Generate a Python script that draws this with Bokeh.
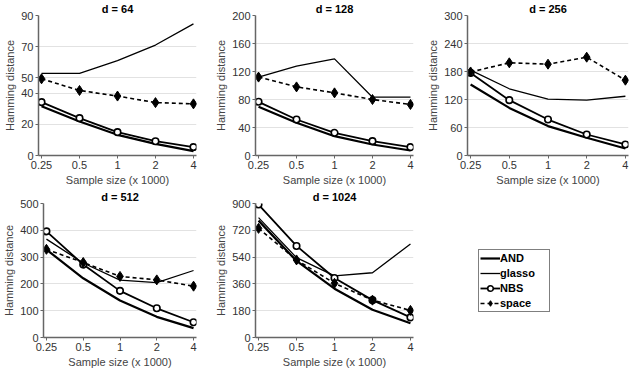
from bokeh.plotting import figure
from bokeh.layouts import column, row
from bokeh.models import Range1d, FixedTicker, Legend, LegendItem
from bokeh.embed import file_html
from bokeh.resources import INLINE

# ---------------- data ----------------
sample_sizes = ["0.25", "0.5", "1", "2", "4"]
xpos = [0, 1, 2, 3, 4]

d64_AND = [31.7, 21.9, 13.3, 7.5, 2.8]
d64_glasso = [52.8, 52.8, 61, 71, 84.6]
d64_NBS = [34.3, 24, 15, 9.2, 5.4]
d64_space = [49.3, 41.8, 38.2, 34, 33.2]
d64_yticks = [0, 20, 40, 50, 70, 90]

d128_AND = [69.5, 46.7, 27.6, 15.7, 7.1]
d128_glasso = [112, 127.6, 138, 83.3, 83.3]
d128_NBS = [76.7, 51.4, 32.4, 20.5, 11.9]
d128_space = [112, 98, 89.5, 80, 72.9]
d128_yticks = [0, 40, 80, 120, 160, 200]

d256_AND = [152, 102, 63, 38, 15]
d256_glasso = [183, 143, 121, 118.6, 127]
d256_NBS = [177, 118.6, 77, 45, 23.6]
d256_space = [179, 198.6, 195.7, 210.7, 161.4]
d256_yticks = [0, 60, 120, 180, 240, 300]

d512_AND = [328, 221, 138, 77, 35]
d512_glasso = [367, 278, 214, 205, 250]
d512_NBS = [396, 272, 174, 109, 57]
d512_space = [329, 280, 228, 215, 191.5]
d512_yticks = [0, 100, 200, 300, 400, 500]

d1024_AND = [785, 514, 328, 186, 96]
d1024_glasso = [805, 536, 414, 435, 628]
d1024_NBS = [893, 615, 400, 251, 135]
d1024_space = [733, 521, 364, 251, 182]
d1024_yticks = [0, 180, 360, 540, 720, 900]

series_names = ["AND", "glasso", "NBS", "space"]

FONT = "Liberation Sans"


def style_line(p, kind, xs, ys):
    rs = []
    if kind == "AND":
        rs.append(p.line(xs, ys, line_color="black", line_width=2.2))
    elif kind == "glasso":
        rs.append(p.line(xs, ys, line_color="black", line_width=1.3))
    elif kind == "NBS":
        rs.append(p.line(xs, ys, line_color="black", line_width=1.8))
        rs.append(p.scatter(xs, ys, marker="circle", size=6.5, fill_color="white",
                            line_color="black", line_width=1.6))
    else:
        rs.append(p.line(xs, ys, line_color="black", line_width=1.6, line_dash="4 3"))
        rs.append(p.scatter(xs, ys, marker="diamond", size=10, fill_color="black",
                            line_color="black"))
    return rs


def make_panel(title, ymax, yticks, data, width, height, left, right, toff):
    p = figure(width=width, height=height, output_backend="svg", toolbar_location=None,
               x_range=Range1d(-0.08, 4.08), y_range=Range1d(0, ymax),
               min_border_left=left, min_border_right=right,
               min_border_top=0, min_border_bottom=0)
    p.outline_line_color = None
    p.title.text = title
    p.title.align = "center"
    p.title.offset = toff
    p.title.text_font = FONT
    p.title.text_font_size = "11px"
    p.title.text_font_style = "bold"
    p.title.standoff = 1
    p.title.text_color = "black"

    p.xaxis.ticker = FixedTicker(ticks=xpos)
    p.xaxis.major_label_overrides = {i: s for i, s in zip(xpos, sample_sizes)}
    p.yaxis.ticker = FixedTicker(ticks=yticks)
    p.xaxis.axis_label = "Sample size (x 1000)"
    p.yaxis.axis_label = "Hamming distance"
    for ax in (p.xaxis[0], p.yaxis[0]):
        ax.axis_label_text_font = FONT
        ax.axis_label_text_font_size = "11px"
        ax.axis_label_text_font_style = "normal"
        ax.axis_label_text_color = "#444444"
        ax.axis_label_standoff = 2
        ax.major_label_text_font = FONT
        ax.major_label_text_font_size = "11px"
        ax.major_label_text_color = "#333333"
        ax.major_label_standoff = 2
        ax.major_tick_out = 3
        ax.major_tick_in = 0
        ax.minor_tick_out = 0
        ax.minor_tick_in = 0
        ax.axis_line_color = "#666666"
        ax.axis_line_width = 1.5
        ax.major_tick_line_color = "#666666"
    p.xgrid.visible = False
    p.ygrid.grid_line_color = "#e2e2e2"
    p.ygrid.grid_line_width = 1

    for name, ys in zip(series_names, data):
        style_line(p, name, xpos, ys)
    return p


H1 = 188
H2 = 182
p1 = make_panel("d = 64", 90, d64_yticks,
                [d64_AND, d64_glasso, d64_NBS, d64_space], 212, H1, 38, 16, -8)
p2 = make_panel("d = 128", 200, d128_yticks,
                [d128_AND, d128_glasso, d128_NBS, d128_space], 212, H1, 38, 11, 0)
p3 = make_panel("d = 256", 300, d256_yticks,
                [d256_AND, d256_glasso, d256_NBS, d256_space], 208, H1, 38, 4, 0)
p4 = make_panel("d = 512", 500, d512_yticks,
                [d512_AND, d512_glasso, d512_NBS, d512_space], 212, H2, 38, 16, -8)
p5 = make_panel("d = 1024", 900, d1024_yticks,
                [d1024_AND, d1024_glasso, d1024_NBS, d1024_space], 212, H2, 38, 11, -6)

# legend panel
pl = figure(width=208, height=H2, output_backend="svg", toolbar_location=None,
            x_range=Range1d(0, 1), y_range=Range1d(0, 1),
            x_axis_type=None, y_axis_type=None, min_border=0)
pl.outline_line_color = None
pl.grid.visible = False
items = []
for name in series_names:
    rs = style_line(pl, name, [-5, -4], [-5, -4])
    items.append(LegendItem(label=name, renderers=rs))
leg = Legend(items=items, location=(54, 25), margin=0)
leg.label_text_font = FONT
leg.label_text_font_size = "11px"
leg.label_text_font_style = "bold"
leg.label_text_color = "black"
leg.label_height = 14
leg.label_width = 48
leg.glyph_height = 14
leg.glyph_width = 20
leg.label_standoff = 0
leg.spacing = 1
leg.padding = 1
leg.border_line_color = "black"
leg.border_line_width = 1
leg.background_fill_color = "white"
pl.add_layout(leg)

layout = column(row(p1, p2, p3), row(p4, p5, pl))

open("out.html", "w").write(file_html(layout, INLINE))
